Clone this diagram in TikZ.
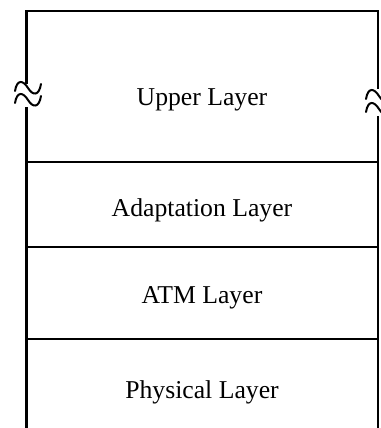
\documentclass[tikz,border=0pt]{standalone}
\usepackage{fontspec}
\setmainfont{Liberation Serif}
\begin{document}
\begin{tikzpicture}[x=1pt,y=-1pt,
  frame/.style={line width=2.2pt},
  divider/.style={line width=1.6pt},
  breakmark/.style={line width=2pt, line cap=round},
  layerlabel/.style={font=\fontsize{25.7}{30}\selectfont, anchor=base}]
\useasboundingbox (0,0) rectangle (380,428);

% outer frame (open at the bottom, broken on both sides)
\coordinate (tl) at (26.5,11);
\coordinate (tr) at (378,11);
\coordinate (lbreakA) at (26.5,84);
\coordinate (lbreakB) at (26.5,107);
\coordinate (rbreakA) at (378,89);
\coordinate (rbreakB) at (378,116);
\coordinate (bl) at (26.5,430);
\coordinate (br) at (378,430);
\draw[frame] (lbreakA) -- (tl) -- (tr) -- (rbreakA);
\draw[frame] (lbreakB) -- (bl);
\draw[frame] (rbreakB) -- (br);

% break marks
\foreach \dy in {0,12} {
  \draw[breakmark] (15,91+\dy) .. controls (17,79+\dy) and (23,80+\dy) .. (28,88+\dy)
                   .. controls (33,96+\dy) and (39,96+\dy) .. (41,84+\dy);
}
\foreach \dy in {0,13} {
  \draw[breakmark] (366,99+\dy) .. controls (368,87+\dy) and (374,88+\dy) .. (379,96+\dy)
                   .. controls (384,104+\dy) and (390,104+\dy) .. (392,92+\dy);
}

% layer dividers
\coordinate (d1l) at (26.5,162); \coordinate (d1r) at (378,162);
\coordinate (d2l) at (26.5,247); \coordinate (d2r) at (378,247);
\coordinate (d3l) at (26.5,339); \coordinate (d3r) at (378,339);
\draw[divider] (d1l) -- (d1r);
\draw[divider] (d2l) -- (d2r);
\draw[divider] (d3l) -- (d3r);

% layer names
\node[layerlabel] (upper) at (202,105) {Upper Layer};
\node[layerlabel] (adapt) at (202,216.5) {Adaptation Layer};
\node[layerlabel] (atm) at (202,303) {ATM Layer};
\node[layerlabel] (phys) at (202,398) {Physical Layer};
\end{tikzpicture}
\end{document}
